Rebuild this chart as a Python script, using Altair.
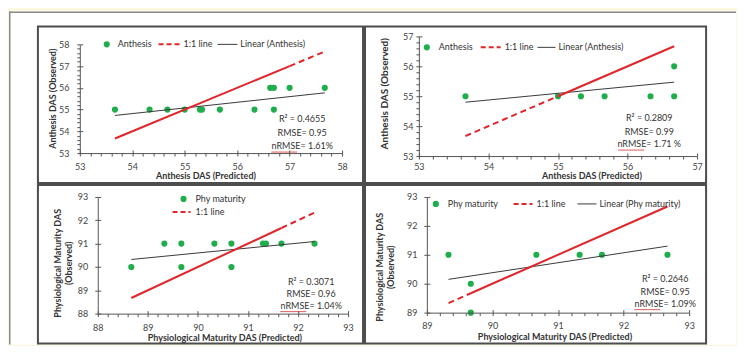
import altair as alt
import pandas as pd

# ---------------- data ----------------
# Panel A: Anthesis, season 1
anth_a_pred = [53.67, 54.33, 54.67, 55.00, 55.29, 55.33, 55.67, 56.33, 56.70, 56.63, 56.70, 57.00, 57.67]
anth_a_obs = [55, 55, 55, 55, 55, 55, 55, 55, 55, 56, 56, 56, 56]
anth_a_trend_x = [53.67, 57.67]
anth_a_trend_y = [54.73, 55.77]
anth_a_11_solid = [53.67, 57.00]
anth_a_11_dash = [57.00, 57.67]
anth_a_stats = ["R\u00b2 = 0.4655", "RMSE= 0.95", "nRMSE= 1.61%"]
anth_a_ticks = [53, 54, 55, 56, 57, 58]

# Panel B: Anthesis, season 2
anth_b_pred = [53.67, 55.00, 55.33, 55.67, 56.33, 56.67, 56.67]
anth_b_obs = [55, 55, 55, 55, 55, 55, 56]
anth_b_trend_x = [53.67, 56.67]
anth_b_trend_y = [54.80, 55.47]
anth_b_11_solid = [55.00, 56.67]
anth_b_11_dash = [53.67, 55.00]
anth_b_stats = ["R\u00b2 = 0.2809", "RMSE= 0.99", "nRMSE= 1.71 %"]
anth_b_ticks = [53, 54, 55, 56, 57]

# Panel C: Physiological maturity, season 1
phy_a_pred = [88.67, 89.33, 89.67, 89.67, 90.33, 90.67, 90.67, 91.30, 91.36, 91.67, 92.33]
phy_a_obs = [90, 91, 91, 90, 91, 91, 90, 91, 91, 91, 91]
phy_a_trend_x = [88.67, 92.33]
phy_a_trend_y = [90.32, 91.09]
phy_a_11_solid = [88.67, 91.67]
phy_a_11_dash = [91.67, 92.33]
phy_a_stats = ["R\u00b2 = 0.3071", "RMSE= 0.96", "nRMSE= 1.04%"]
phy_a_ticks = [88, 89, 90, 91, 92, 93]

# Panel D: Physiological maturity, season 2
phy_b_pred = [89.33, 89.67, 89.67, 90.67, 91.33, 91.67, 92.67]
phy_b_obs = [91, 90, 89, 91, 91, 91, 91]
phy_b_trend_x = [89.33, 92.67]
phy_b_trend_y = [90.15, 91.30]
phy_b_11_solid = [89.67, 92.67]
phy_b_11_dash = [89.33, 89.67]
phy_b_stats = ["R\u00b2 = 0.2646", "RMSE= 0.95", "nRMSE= 1.09%"]
phy_b_ticks = [89, 90, 91, 92, 93]

anth_x_title = "Anthesis DAS (Predicted)"
anth_y_title = "Anthesis DAS (Observed)"
phy_x_title = "Physiological  Maturity DAS (Predicted)"
phy_y_title = ["Physiological Maturity DAS", "(Observed)"]

# ---------------- style ----------------
FONT = "Lato"
GREEN = "#1fae4b"
RED = "#e0262b"
DARK = "#3a3a3a"
AX = "#555555"
LBL = "#444444"
TXT = "#333333"
FRAME = "#4d4d4d"
CREAM = "#faf8e0"


def one():
    return pd.DataFrame({"k": [0]})


def minor(ticks):
    return [round(a + k * 0.2, 1) for a in ticks[:-1] for k in (1, 2, 3, 4)]


def axis(**kw):
    d = dict(grid=False, domainColor=AX, tickColor=AX, domainWidth=1, tickWidth=1,
             labelFont=FONT, labelFontSize=9, labelColor=LBL, labelFlush=False,
             labelOverlap=False, zindex=1)
    d.update(kw)
    return alt.Axis(**d)


def panel(p, outer=False):
    W, H = p["size"]
    x0, x1 = p["xrange"]
    yb, yt = p["yrange"]
    xt, yt_ = p["xticks"], p["yticks"]
    xs = alt.Scale(domain=[xt[0], xt[-1]], range=[x0, x1], zero=False, nice=False)
    ys = alt.Scale(domain=[yt_[0], yt_[-1]], range=[yb, yt], zero=False, nice=False)
    offx = yb - H      # bottom axis moved up to the x axis line
    offy = -x0         # left axis moved right to the y axis line

    pts = pd.DataFrame({"pred": p["pred"], "obs": p["obs"]})
    layers = []

    if outer:
        ox0, ox1, oy0, oy1 = p["outer"]
        layers.append(alt.Chart(one()).mark_rect(color="white").encode(
            x=alt.value(ox0), x2=alt.value(ox1), y=alt.value(oy0), y2=alt.value(oy1)))
        layers.append(alt.Chart(one()).mark_rule(color="#8a8a8a", strokeWidth=1.5).encode(
            x=alt.value(ox0 + 0.75), y=alt.value(oy0), y2=alt.value(oy1)))
        layers.append(alt.Chart(one()).mark_rule(color="#8a8a8a", strokeWidth=1.5).encode(
            x=alt.value(ox0), x2=alt.value(ox1), y=alt.value(oy0 + 0.75)))

    # panel frame
    layers.append(alt.Chart(one()).mark_rect(fillOpacity=0, stroke=FRAME, strokeWidth=2).encode(
        x=alt.value(0), x2=alt.value(W), y=alt.value(0), y2=alt.value(H)))

    # minor ticks (outward)
    ymin_axis = axis(orient="left", offset=offy, values=minor(yt_), tickSize=3, labels=False,
                     domain=False, title=None) if p["yminor"] else None
    layers.append(alt.Chart(pts).mark_point(opacity=0, size=1).encode(
        x=alt.X("pred:Q", scale=xs, axis=axis(orient="bottom", offset=offx, values=minor(xt),
                                              tickSize=3, labels=False, domain=False, title=None)),
        y=alt.Y("obs:Q", scale=ys, axis=ymin_axis)))

    # inner half of the major ticks (crossing style)
    layers.append(alt.Chart(pts).mark_point(opacity=0, size=1).encode(
        x=alt.X("pred:Q", scale=xs, axis=axis(orient="top", offset=-yb, values=xt, tickSize=3,
                                              labels=False, domain=False, title=None)),
        y=alt.Y("obs:Q", scale=ys, axis=axis(orient="right", offset=x0 - W, values=yt_, tickSize=3,
                                             labels=False, domain=False, title=None))))

    # main points with main axes
    tx, ty = p["xtitle_pos"]
    yx, yy = p["ytitle_pos"]
    layers.append(alt.Chart(pts).mark_point(filled=True, size=38, color=GREEN, opacity=1).encode(
        x=alt.X("pred:Q", scale=xs, axis=axis(
            orient="bottom", offset=offx, values=xt, tickSize=3, labelPadding=p["xlabpad"],
            labelBaseline="middle", title=p["xtitle"], titleFont=FONT, titleFontSize=9,
            titleFontWeight="bold", titleColor=TXT, titleX=tx, titleY=ty,
            titleBaseline="middle", titleAlign="center")),
        y=alt.Y("obs:Q", scale=ys, axis=axis(
            orient="left", offset=offy, values=yt_, tickSize=3, labelPadding=p["ylabpad"],
            labelBaseline="middle", labelAlign="right", title=p["ytitle"], titleFont=FONT,
            titleFontSize=p["ytitle_size"], titleFontWeight="bold", titleColor=TXT,
            titleAngle=270, titleX=yx, titleY=yy, titleBaseline="middle", titleAlign="center",
            titleLineHeight=11))))

    # trend line
    tr = pd.DataFrame({"x": p["trend_x"], "y": p["trend_y"]})
    layers.append(alt.Chart(tr).mark_line(color=DARK, strokeWidth=1).encode(
        x=alt.X("x:Q", scale=xs, axis=None), y=alt.Y("y:Q", scale=ys, axis=None)))
    # 1:1 line, solid and dashed parts
    s = pd.DataFrame({"x": p["solid"], "y": p["solid"]})
    layers.append(alt.Chart(s).mark_line(color=RED, strokeWidth=2).encode(
        x=alt.X("x:Q", scale=xs, axis=None), y=alt.Y("y:Q", scale=ys, axis=None)))
    d = pd.DataFrame({"x": p["dash"], "y": p["dash"]})
    layers.append(alt.Chart(d).mark_line(color=RED, strokeWidth=2, strokeDash=[6, 4]).encode(
        x=alt.X("x:Q", scale=xs, axis=None), y=alt.Y("y:Q", scale=ys, axis=None)))

    # statistics text
    cx, ys_ = p["stats_pos"]
    for line, yy_ in zip(p["stats"], ys_):
        layers.append(alt.Chart(one()).mark_text(
            align="center", baseline="middle", font=FONT, fontSize=9, color=TXT).encode(
            x=alt.value(cx), y=alt.value(yy_), text=alt.value(line)))
    layers.append(alt.Chart(one()).mark_rule(color="#e05a5a", strokeWidth=1).encode(
        x=alt.value(cx - 31), x2=alt.value(cx - 5), y=alt.value(ys_[2] + 6)))

    # legend
    for it in p["legend"]:
        kind = it[0]
        if kind == "dot":
            layers.append(alt.Chart(one()).mark_point(filled=True, size=38, color=GREEN, opacity=1)
                          .encode(x=alt.value(it[1]), y=alt.value(it[2])))
        elif kind == "dash":
            layers.append(alt.Chart(one()).mark_rule(color=RED, strokeWidth=2, strokeDash=[5, 3])
                          .encode(x=alt.value(it[1]), x2=alt.value(it[2]), y=alt.value(it[3])))
        elif kind == "line":
            layers.append(alt.Chart(one()).mark_rule(color=DARK, strokeWidth=1)
                          .encode(x=alt.value(it[1]), x2=alt.value(it[2]), y=alt.value(it[3])))
        else:
            layers.append(alt.Chart(one()).mark_text(
                align="left", baseline="middle", font=FONT, fontSize=9, color=TXT).encode(
                x=alt.value(it[1]), y=alt.value(it[2]), text=alt.value(it[3])))

    return alt.layer(*layers).resolve_axis(x="independent", y="independent").properties(
        width=W, height=H)


tl = panel(dict(
    size=(326, 157), xrange=(42, 305), yrange=(127, 18), xticks=anth_a_ticks, yticks=anth_a_ticks,
    yminor=True, pred=anth_a_pred, obs=anth_a_obs, trend_x=anth_a_trend_x, trend_y=anth_a_trend_y,
    solid=anth_a_11_solid, dash=anth_a_11_dash, stats=anth_a_stats, stats_pos=(265, [93, 107, 120]),
    xtitle=anth_x_title, ytitle=anth_y_title, xtitle_pos=(168, 23), ytitle_pos=(-27, 72),
    ytitle_size=9, xlabpad=10, ylabpad=8, outer=(-29, 700, -15, 319),
    legend=[("dot", 69, 18), ("text", 80, 18, "Anthesis"), ("dash", 121, 142, 18),
            ("text", 146, 18, "1:1 line"), ("line", 180, 200, 18),
            ("text", 203, 18, "Linear (Anthesis)")]), outer=True)

tr = panel(dict(
    size=(342, 157), xrange=(54, 333), yrange=(130, 10), xticks=anth_b_ticks, yticks=anth_b_ticks,
    yminor=True, pred=anth_b_pred, obs=anth_b_obs, trend_x=anth_b_trend_x, trend_y=anth_b_trend_y,
    solid=anth_b_11_solid, dash=anth_b_11_dash, stats=anth_b_stats, stats_pos=(285, [92, 106, 118]),
    xtitle=anth_x_title, ytitle=anth_y_title, xtitle_pos=(227, 20), ytitle_pos=(-34, 67),
    ytitle_size=10, xlabpad=7, ylabpad=3,
    legend=[("dot", 62, 21), ("text", 74, 21, "Anthesis"), ("dash", 116, 136, 21),
            ("text", 140, 21, "1:1 line"), ("line", 173, 191, 21),
            ("text", 194, 21, "Linear (Anthesis)")]))

bl = panel(dict(
    size=(326, 159), xrange=(60, 311), yrange=(129, 12), xticks=phy_a_ticks, yticks=phy_a_ticks,
    yminor=False, pred=phy_a_pred, obs=phy_a_obs, trend_x=phy_a_trend_x, trend_y=phy_a_trend_y,
    solid=phy_a_11_solid, dash=phy_a_11_dash, stats=phy_a_stats, stats_pos=(274, [97, 109, 121]),
    xtitle=phy_x_title, ytitle=phy_y_title, xtitle_pos=(187, 24), ytitle_pos=(-40, 78),
    ytitle_size=9, xlabpad=11, ylabpad=7,
    legend=[("dot", 146, 14), ("text", 158, 14, "Phy maturity"), ("dash", 135, 153, 27),
            ("text", 158, 27, "1:1 line")]))

br = panel(dict(
    size=(342, 159), xrange=(62, 325), yrange=(128, 12), xticks=phy_b_ticks, yticks=phy_b_ticks,
    yminor=False, pred=phy_b_pred, obs=phy_b_obs, trend_x=phy_b_trend_x, trend_y=phy_b_trend_y,
    solid=phy_b_11_solid, dash=phy_b_11_dash, stats=phy_b_stats, stats_pos=(301, [94, 107, 119]),
    xtitle=phy_x_title, ytitle=phy_y_title, xtitle_pos=(190, 24), ytitle_pos=(-47, 82),
    ytitle_size=9, xlabpad=10, ylabpad=7,
    legend=[("dot", 71, 19), ("text", 83, 19, "Phy maturity"), ("dash", 149, 168, 19),
            ("text", 172, 19, "1:1 line"), ("line", 213, 232, 19),
            ("text", 235, 19, "Linear (Phy maturity)")]))

chart = alt.concat(tl, tr, bl, br, columns=2, spacing=2, bounds="flush", align="each").properties(
    background=CREAM, padding={"left": 0, "top": 2, "right": 0, "bottom": 0}
).configure_view(strokeWidth=0)

chart.save("out.html", embed_options={"renderer": "svg", "actions": False})
